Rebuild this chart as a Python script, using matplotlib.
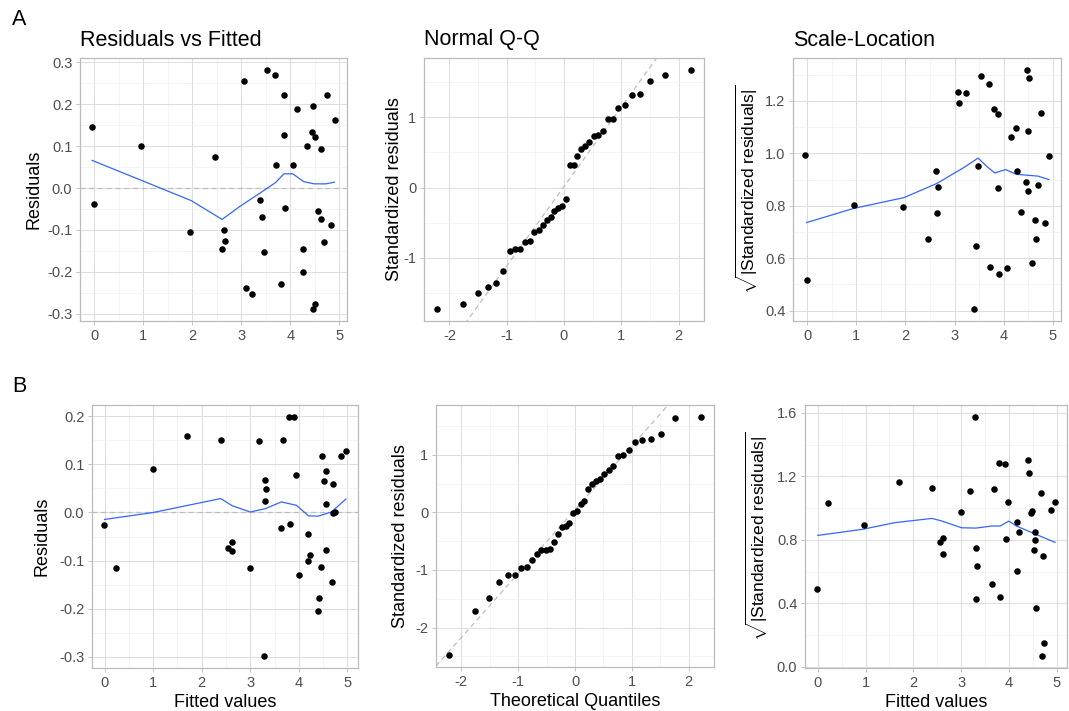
import numpy as np
import matplotlib
matplotlib.use("Agg")
import matplotlib.pyplot as plt
from matplotlib.ticker import MultipleLocator, FuncFormatter

plt.rcParams['font.family'] = ['Liberation Sans', 'DejaVu Sans']
plt.rcParams['mathtext.fontset'] = 'custom'
plt.rcParams['mathtext.rm'] = 'Liberation Sans'
plt.rcParams['mathtext.it'] = 'Liberation Sans:italic'
plt.rcParams['mathtext.bf'] = 'Liberation Sans:bold'

# ---------------- Model A ----------------
a_fitted = [-0.04, -0.01, 0.95, 1.95, 2.46, 2.64, 2.66, 2.61, 3.06, 3.09, 3.22, 3.52, 3.69,
            3.38, 3.42, 3.47, 3.71, 3.87, 3.88, 3.90, 3.81, 4.06, 4.14, 4.25, 4.25, 4.34,
            4.44, 4.50, 4.47, 4.46, 4.50, 4.57, 4.63, 4.63, 4.69, 4.75, 4.83, 4.91]
a_resid = [0.145, -0.039, 0.101, -0.104, 0.075, -0.100, -0.126, -0.145, 0.255, -0.238, -0.253,
           0.282, 0.270, -0.028, -0.070, -0.152, 0.055, 0.222, 0.126, -0.048, -0.229, 0.054,
           0.189, -0.145, -0.200, 0.101, 0.133, 0.123, 0.196, -0.289, -0.276, -0.055, -0.075,
           0.093, -0.128, 0.221, -0.089, 0.162]
a_smooth_x = [-0.04, 1.98, 2.61, 2.97, 3.37, 3.70, 3.87, 4.05, 4.28, 4.49, 4.73, 4.90]
a_smooth_y = [0.066, -0.030, -0.075, -0.044, -0.013, 0.013, 0.034, 0.034, 0.015, 0.010, 0.010, 0.014]

theo_q = [-2.222, -1.756, -1.508, -1.328, -1.183, -1.059, -0.950, -0.851, -0.760, -0.674,
          -0.594, -0.517, -0.443, -0.371, -0.301, -0.233, -0.166, -0.099, -0.033,
          0.033, 0.099, 0.166, 0.233, 0.301, 0.371, 0.443, 0.517, 0.594, 0.674,
          0.760, 0.851, 0.950, 1.059, 1.183, 1.328, 1.508, 1.756, 2.222]
a_std_sorted = [-1.735, -1.664, -1.512, -1.427, -1.365, -1.199, -0.910, -0.877, -0.877, -0.777,
                -0.763, -0.640, -0.607, -0.540, -0.464, -0.427, -0.336, -0.294, -0.265, -0.166,
                0.318, 0.322, 0.450, 0.550, 0.588, 0.645, 0.735, 0.754, 0.801, 0.972, 0.981,
                1.128, 1.175, 1.322, 1.336, 1.521, 1.607, 1.678]
a_qq_intercept, a_qq_slope = 0.014, 1.134

a_sl_fitted = [-0.04, 0.00, 0.95, 1.96, 2.47, 2.62, 2.66, 2.65, 3.07, 3.09, 3.24, 3.53, 3.70,
               3.43, 3.47, 3.39, 3.81, 3.88, 3.89, 3.72, 3.91, 4.07, 4.15, 4.26, 4.27, 4.35,
               4.46, 4.50, 4.47, 4.51, 4.49, 4.57, 4.64, 4.65, 4.70, 4.76, 4.84, 4.92]
a_sl = [0.992, 0.518, 0.804, 0.796, 0.672, 0.934, 0.872, 0.772, 1.233, 1.193, 1.229, 1.295,
        1.266, 0.648, 0.951, 0.406, 1.169, 1.150, 0.866, 0.568, 0.539, 0.563, 1.063, 1.095,
        0.933, 0.776, 0.891, 0.858, 1.318, 1.289, 1.084, 0.581, 0.746, 0.675, 0.879, 1.154,
        0.733, 0.989]
a_sl_smooth_x = [-0.01, 0.95, 1.97, 2.64, 3.21, 3.48, 3.65, 3.82, 4.04, 4.26, 4.70, 4.92]
a_sl_smooth_y = [0.736, 0.790, 0.831, 0.885, 0.948, 0.982, 0.951, 0.925, 0.938, 0.920, 0.913, 0.900]

# ---------------- Model B ----------------
b_fitted = [-0.01, 0.99, 1.70, 0.23, 2.40, 2.54, 2.62, 2.62, 2.99, 3.19, 3.30, 3.32, 3.31,
            3.29, 3.64, 3.68, 3.79, 3.91, 3.81, 3.95, 4.00, 4.18, 4.18, 4.23, 4.41, 4.40,
            4.46, 4.48, 4.52, 4.56, 4.55, 4.57, 4.71, 4.68, 4.71, 4.74, 4.87, 4.97]
b_resid = [-0.026, 0.091, 0.159, -0.115, 0.152, -0.074, -0.080, -0.062, -0.115, 0.148, 0.068,
           0.049, 0.023, -0.299, -0.033, 0.152, 0.199, 0.198, -0.024, 0.078, -0.131, -0.045,
           -0.100, -0.088, -0.178, -0.205, -0.113, 0.117, 0.065, 0.087, -0.078, 0.017, 0.059,
           -0.145, -0.001, 0.002, 0.117, 0.129]
b_smooth_x = [0.0, 1.0, 2.39, 2.63, 3.00, 3.31, 3.64, 3.95, 4.20, 4.40, 4.67, 4.97]
b_smooth_y = [-0.0145, 0.0, 0.029, 0.014, 0.001, 0.008, 0.022, 0.015, -0.007, -0.0076, 0.001, 0.028]

b_std_sorted = [-2.478, -1.710, -1.492, -1.205, -1.084, -1.079, -0.958, -0.941, -0.826, -0.729,
                -0.660, -0.654, -0.631, -0.511, -0.367, -0.258, -0.229, -0.189, -0.011, 0.017,
                0.149, 0.195, 0.407, 0.488, 0.539, 0.574, 0.660, 0.734, 0.803, 0.975, 0.993,
                1.090, 1.228, 1.262, 1.279, 1.360, 1.641, 1.658]
b_qq_intercept, b_qq_slope = 0.046, 1.11

b_sl_fitted = [-0.02, 0.22, 0.97, 1.71, 2.39, 2.55, 2.63, 2.62, 2.99, 3.19, 3.29, 3.31, 3.33,
               3.31, 3.64, 3.68, 3.79, 3.81, 3.92, 3.95, 3.99, 4.18, 4.18, 4.22, 4.40, 4.42,
               4.46, 4.48, 4.52, 4.54, 4.55, 4.57, 4.68, 4.71, 4.70, 4.74, 4.88, 4.97]
b_sl = [0.489, 1.036, 0.896, 1.166, 1.130, 0.790, 0.815, 0.714, 0.978, 1.107, 1.575, 0.752,
        0.635, 0.430, 0.522, 1.120, 1.285, 0.441, 1.278, 0.804, 1.038, 0.911, 0.606, 0.852,
        1.305, 1.220, 0.969, 0.984, 0.735, 0.802, 0.850, 0.370, 1.097, 0.702, 0.069, 0.152,
        0.992, 1.040]
b_sl_smooth_x = [0.0, 0.93, 1.61, 2.39, 2.58, 3.01, 3.31, 3.64, 3.82, 4.00, 4.16, 4.47, 4.97]
b_sl_smooth_y = [0.829, 0.867, 0.909, 0.936, 0.921, 0.877, 0.875, 0.888, 0.888, 0.919, 0.888, 0.848, 0.785]

titles = ["Residuals vs Fitted", "Normal Q-Q", "Scale-Location"]
sqrt_label = r'$\sqrt{|\mathrm{Standardized\ residuals}|}$'

W, H = 1069, 711
fig = plt.figure(figsize=(W / 100, H / 100), dpi=100)

def axes_px(l, t, r, b):
    return fig.add_axes([l / W, 1 - b / H, (r - l) / W, (b - t) / H])

GRID_MAJ = '#DEDEDE'
GRID_MIN = '#EEEEEE'
BORDER = '#BBBBBB'
TICKTXT = '#4D4D4D'
BLUE = '#3366FF'
DOT = 22

def expand(vals, f=0.05):
    lo, hi = min(vals), max(vals)
    d = (hi - lo) * f
    return lo - d, hi + d

def fmt1(v, p):
    s = f"{v:.1f}"
    return "0.0" if s == "-0.0" else s

def fmt0(v, p):
    s = f"{v:.0f}"
    return "0" if s == "-0" else s

def style(ax, xmaj, xmin, ymaj, ymin, yfmt):
    ax.set_facecolor('white')
    ax.xaxis.set_major_locator(MultipleLocator(xmaj))
    ax.xaxis.set_minor_locator(MultipleLocator(xmin))
    ax.yaxis.set_major_locator(MultipleLocator(ymaj))
    ax.yaxis.set_minor_locator(MultipleLocator(ymin))
    ax.grid(which='major', color=GRID_MAJ, lw=0.75, zorder=0)
    ax.grid(which='minor', color=GRID_MIN, lw=0.45, zorder=0)
    ax.set_axisbelow(True)
    for s in ax.spines.values():
        s.set_color(BORDER)
        s.set_linewidth(0.9)
    ax.tick_params(which='major', length=3, width=0.6, color=BORDER, labelsize=10.5,
                   labelcolor=TICKTXT, pad=2.5)
    ax.tick_params(which='minor', length=0)
    ax.yaxis.set_major_formatter(FuncFormatter(yfmt))
    ax.xaxis.set_major_formatter(FuncFormatter(fmt0))

LBL = 13
TITLE = 15.5

def draw_resid(ax, fx, r, sx, sy):
    ax.axhline(0, color='#BDBDBD', lw=0.9, ls=(0, (4, 3)), zorder=1)
    ax.plot(sx, sy, color=BLUE, lw=0.9, zorder=2)
    ax.scatter(fx, r, s=DOT, color='black', zorder=3, linewidths=0)
    ax.set_xlim(*expand(fx))
    ax.set_ylim(*expand(r))
    style(ax, 1, 0.5, 0.1, 0.05, fmt1)

def draw_qq(ax, q, s, b0, b1):
    xl = expand(q)
    yl = expand(s)
    xs = np.array(xl)
    ax.plot(xs, b0 + b1 * xs, color='#BDBDBD', lw=0.9, ls=(0, (4, 3)), zorder=1)
    ax.scatter(q, s, s=DOT, color='black', zorder=3, linewidths=0)
    ax.set_xlim(*xl)
    ax.set_ylim(*yl)
    style(ax, 1, 0.5, 1, 0.5, fmt0)

def draw_sl(ax, fx, v, sx, sy, ymaj, ymin):
    ax.plot(sx, sy, color=BLUE, lw=0.9, zorder=2)
    ax.scatter(fx, v, s=DOT, color='black', zorder=3, linewidths=0)
    ax.set_xlim(*expand(fx))
    ax.set_ylim(*expand(v))
    style(ax, 1, 0.5, ymaj, ymin, fmt1)

# Row A
axA1 = axes_px(80, 58, 347, 321)
draw_resid(axA1, a_fitted, a_resid, a_smooth_x, a_smooth_y)
axA2 = axes_px(424, 58, 704, 321)
draw_qq(axA2, theo_q, a_std_sorted, a_qq_intercept, a_qq_slope)
axA3 = axes_px(793, 58, 1061, 321)
draw_sl(axA3, a_sl_fitted, a_sl, a_sl_smooth_x, a_sl_smooth_y, 0.2, 0.1)

# Row B
axB1 = axes_px(92, 405, 358, 668)
draw_resid(axB1, b_fitted, b_resid, b_smooth_x, b_smooth_y)
axB2 = axes_px(436, 405, 714, 667)
draw_qq(axB2, theo_q, b_std_sorted, b_qq_intercept, b_qq_slope)
axB3 = axes_px(805, 405, 1067, 668)
draw_sl(axB3, b_sl_fitted, b_sl, b_sl_smooth_x, b_sl_smooth_y, 0.4, 0.2)

for ax, t in zip([axA1, axA2, axA3], titles):
    ax.set_title(t, loc='left', fontsize=TITLE, pad=9, color='black')

def ylab(ax, text, xpx, l, r, size=LBL):
    ax.set_ylabel(text, fontsize=size, color='black')
    ax.yaxis.set_label_coords((xpx - l) / (r - l), 0.5)

ylab(axA1, "Residuals", 43, 80, 347)
ylab(axA2, "Standardized residuals", 403, 424, 704)
ylab(axA3, sqrt_label, 760, 793, 1061, 12.5)
ylab(axB1, "Residuals", 51, 92, 358)
ylab(axB2, "Standardized residuals", 409, 436, 714)
ylab(axB3, sqrt_label, 770, 805, 1067, 12.5)

for ax in [axB1, axB3]:
    ax.set_xlabel("Fitted values", fontsize=LBL, color='black', labelpad=3)
axB2.set_xlabel("Theoretical Quantiles", fontsize=LBL, color='black', labelpad=3)

fig.text(12 / W, 1 - 25 / H, "A", fontsize=15.5, ha='left', va='baseline')
fig.text(12 / W, 1 - 392 / H, "B", fontsize=15.5, ha='left', va='baseline')

fig.savefig("out.png", dpi=100, facecolor='white')
